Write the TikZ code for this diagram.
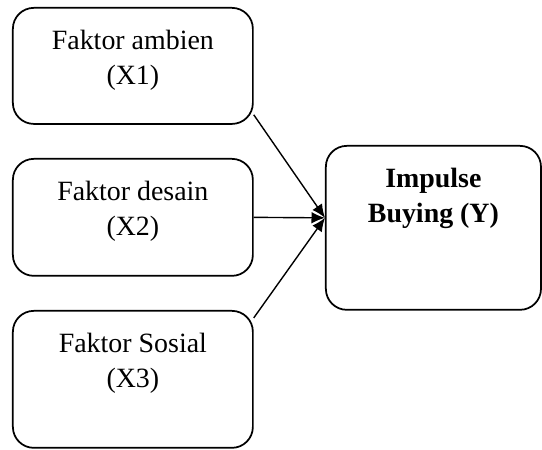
\documentclass[tikz,border=0pt]{standalone}
\usepackage{fontspec}
\setmainfont{Liberation Serif}
\usetikzlibrary{arrows.meta,positioning}

% text block placed at the top of a fixed size box
\newcommand{\boxtxt}[3]{\parbox[c][#2][t]{#1}{\centering\rule{0pt}{18pt}#3}}

\begin{document}
\begin{tikzpicture}[x=0.43pt, y=-0.43pt,
	varbox/.style={draw, line width=0.75pt, rounded corners=9pt, inner sep=0pt, anchor=north west, font=\fontsize{12}{15}\selectfont},
	link/.style={line width=0.6pt, -{Latex[length=5.8pt, width=5pt]}}]

	% page frame
	\useasboundingbox (0,0) rectangle (542,450);

	% independent variables
	\node[varbox] (x1) at (12,7) {\boxtxt{103.2pt}{49.9pt}{Faktor ambien\\(X1)}};
	\node[varbox] (x2) at (12,158) {\boxtxt{103.2pt}{50.3pt}{Faktor desain\\(X2)}};
	\node[varbox] (x3) at (12,310) {\boxtxt{103.2pt}{58.9pt}{Faktor Sosial\\(X3)}};

	% dependent variable
	\node[varbox] (y) at (325,145) {\boxtxt{92.5pt}{70.5pt}{\textbf{Impulse}\\\textbf{Buying (Y)}}};

	% paths
	\draw[link] ([yshift=4.3pt]x1.south east) -- ([yshift=4.3pt]y.west);
	\draw[link] (x2.east) -- ([yshift=4.3pt]y.west);
	\draw[link] ([yshift=-3.4pt]x3.north east) -- ([yshift=4.3pt]y.west);

\end{tikzpicture}
\end{document}
